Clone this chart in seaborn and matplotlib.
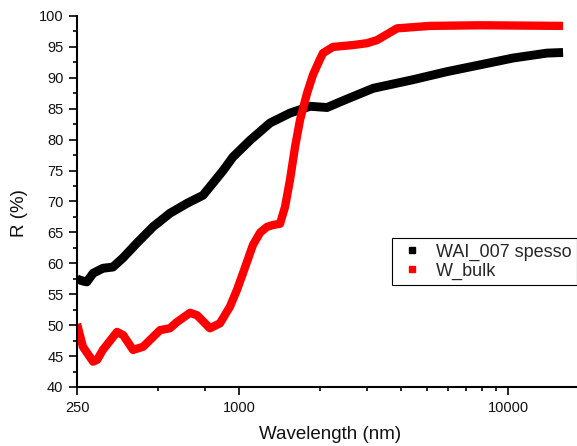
import numpy as np
import pandas as pd
import matplotlib
matplotlib.use("Agg")
import matplotlib.pyplot as plt
from matplotlib.lines import Line2D
from matplotlib.ticker import FixedLocator, NullFormatter
import seaborn as sns

# Reflectance spectra (wavelength in nm, R in %)
wai_wavelength = [250, 256, 265, 272, 287, 312, 340, 371, 418, 479, 554, 641,
                  735, 801, 873, 950, 1100, 1305, 1548, 1838, 2126, 2437,
                  3150, 4437, 5934, 7874, 10440, 13970, 16030]
wai_reflectance = [57.5, 57.3, 57.1, 57.0, 58.4, 59.2, 59.4, 60.9, 63.3, 65.9,
                   68.1, 69.7, 71.0, 73.0, 75.0, 77.2, 79.9, 82.7, 84.3, 85.4,
                   85.2, 86.3, 88.3, 89.7, 91.0, 92.1, 93.2, 94.0, 94.1]

bulk_wavelength = [250, 263, 287, 297, 312, 352, 371, 404, 440, 509, 554, 588,
                   658, 699, 780, 850, 926, 983, 1035, 1128, 1200, 1272, 1338,
                   1421, 1483, 1548, 1616, 1687, 1791, 1885, 2001, 2053, 2237,
                   2654, 2993, 3261, 3870, 5133, 7874, 16030]
bulk_reflectance = [50.2, 46.5, 44.1, 44.4, 46.0, 48.9, 48.4, 46.0, 46.5, 49.2,
                    49.5, 50.5, 52.0, 51.6, 49.5, 50.3, 53.0, 55.7, 58.4, 63.0,
                    65.0, 65.9, 66.2, 66.4, 69.1, 73.5, 78.8, 83.2, 87.5, 90.5,
                    93.0, 94.0, 95.0, 95.3, 95.6, 96.1, 98.0, 98.4, 98.5, 98.4]

series_names = ["WAI_007 spesso", "W_bulk"]
series_colors = ["#000000", "#ff0000"]

x_major = [250, 1000, 10000]
x_minor = [500, 750, 2000, 3000, 4000, 5000, 6000, 7000, 8000, 9000, 20000]

sns.set_style("ticks")
plt.rcParams["font.family"] = ["Liberation Sans", "DejaVu Sans"]

fig = plt.figure(figsize=(5.77, 4.46), dpi=100)
ax = fig.add_axes([77 / 577, 1 - 387 / 446, 1 - 77 / 577, (387 - 16) / 446])

df_wai = pd.DataFrame({"wavelength": wai_wavelength, "R": wai_reflectance})
df_bulk = pd.DataFrame({"wavelength": bulk_wavelength, "R": bulk_reflectance})

sns.lineplot(data=df_wai, x="wavelength", y="R", ax=ax, color=series_colors[0],
             linewidth=6.4, sort=False, estimator=None)
sns.lineplot(data=df_bulk, x="wavelength", y="R", ax=ax, color=series_colors[1],
             linewidth=6.0, sort=False, estimator=None)
for ln in ax.get_lines():
    ln.set_solid_joinstyle("round")
    ln.set_solid_capstyle("butt")

ax.set_xscale("log")
ax.set_xlim(250, 18060)
ax.set_ylim(40, 100)

ax.xaxis.set_major_locator(FixedLocator(x_major))
ax.xaxis.set_minor_locator(FixedLocator(x_minor))
ax.xaxis.set_minor_formatter(NullFormatter())
ax.set_xticklabels([str(v) for v in x_major])
ax.set_yticks(np.arange(40, 101, 5))
ax.set_yticks(np.arange(42.5, 100, 5), minor=True)

for side in ["top", "right"]:
    ax.spines[side].set_visible(False)
for side in ["left", "bottom"]:
    ax.spines[side].set_linewidth(1.5)
    ax.spines[side].set_color("black")

ax.tick_params(axis="both", which="major", direction="out", length=5.8,
               width=1.2, color="black", labelsize=10.5, labelcolor="#111111",
               pad=4)
ax.tick_params(axis="both", which="minor", direction="out", length=2.9,
               width=1.2, color="black")

ax.set_xlabel("Wavelength (nm)", fontsize=13.5, color="#111111")
ax.set_ylabel("R (%)", fontsize=13.5, color="#111111")
ax.xaxis.set_label_coords(0.506, -0.106)
ax.yaxis.set_label_coords(-0.098, 0.47)

handles = [Line2D([], [], linestyle="none", marker="s", markersize=5,
                  color=c, markeredgecolor=c) for c in series_colors]
leg = fig.legend(handles, series_names, loc="upper right",
                 bbox_to_anchor=(1.0, 1 - 238 / 446), fontsize=13,
                 frameon=True, fancybox=False, framealpha=1,
                 edgecolor="black", borderpad=0.3, handlelength=1.6,
                 handletextpad=0.55, labelspacing=0.1, borderaxespad=0)
leg.get_frame().set_linewidth(0.8)

fig.savefig("out.png", dpi=100)
